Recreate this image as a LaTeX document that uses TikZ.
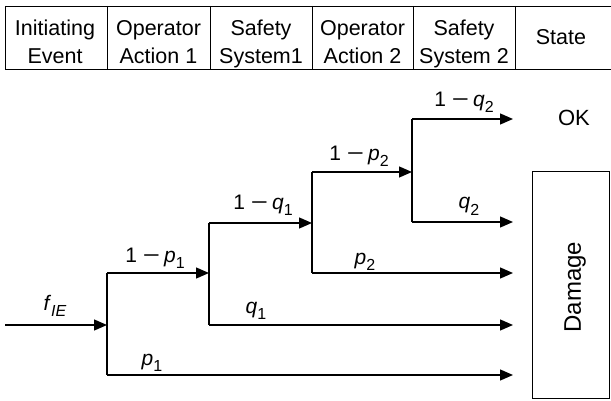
\documentclass[tikz,border=0pt]{standalone}
\usepackage{fontspec}
\setmainfont{Liberation Sans}
\usetikzlibrary{arrows.meta}
\newcommand\prob[2]{\textit{#1}\raisebox{-6pt}{\fontsize{16}{16}\selectfont #2}}
\newcommand\mns{\hspace{6pt}\scalebox{1.4}[1]{−}\hspace{4pt}}
\begin{document}
\begin{tikzpicture}[x=1pt,y=-1pt,
  tree/.style={line width=1.3pt},
  arr/.style={tree,-{Triangle[length=13pt,width=11pt]}},
  grid/.style={line width=0.9pt},
  hdr/.style={anchor=base,font=\fontsize{21.5}{26}\selectfont,inner sep=0pt},
  lab/.style={anchor=base,font=\fontsize{21}{25}\selectfont,inner sep=0pt}]
\useasboundingbox (0,0) rectangle (611,401);
% header
\draw[grid] (5,6) -- (611,6);
\draw[grid] (5,69) -- (611,69);
\foreach \x in {5,107,210,312,413,515} \draw[grid] (\x,6) -- (\x,69);
\node[hdr] (h1a) at (55,36) {Initiating};
\node[hdr] (h1b) at (55,64) {Event};
\node[hdr] (h2a) at (158.5,36) {Operator};
\node[hdr] (h2b) at (158.5,64) {Action 1};
\node[hdr] (h3a) at (261,36) {Safety};
\node[hdr] (h3b) at (261,64) {System1};
\node[hdr] (h4a) at (362.5,36) {Operator};
\node[hdr] (h4b) at (362.5,64) {Action 2};
\node[hdr] (h5a) at (464,36) {Safety};
\node[hdr] (h5b) at (464,64) {System 2};
\node[hdr] (h6) at (561,45) {State};
% branch coordinates
\coordinate (s) at (5,325);
\coordinate (b1) at (107,325);
\coordinate (b1u) at (107,273);
\coordinate (b1d) at (107,375);
\coordinate (b2) at (209,273);
\coordinate (b2u) at (209,223);
\coordinate (b2d) at (209,325);
\coordinate (b3) at (312,223);
\coordinate (b3u) at (312,172);
\coordinate (b3d) at (312,273);
\coordinate (b4) at (412,172);
\coordinate (b4u) at (412,119);
\coordinate (b4d) at (412,222);
\coordinate (e1) at (513,119);
\coordinate (e2) at (513,222);
\coordinate (e3) at (513,273);
\coordinate (e4) at (513,325);
\coordinate (e5) at (513,375);
% verticals
\draw[tree] (b1u) -- (b1d);
\draw[tree] (b2u) -- (b2d);
\draw[tree] (b3u) -- (b3d);
\draw[tree] (b4u) -- (b4d);
% horizontals
\draw[arr] (s) -- (b1);
\draw[arr] (b1u) -- (b2);
\draw[arr] (b1d) -- (e5);
\draw[arr] (b2u) -- (b3);
\draw[arr] (b2d) -- (e4);
\draw[arr] (b3u) -- (b4);
\draw[arr] (b3d) -- (e3);
\draw[arr] (b4u) -- (e1);
\draw[arr] (b4d) -- (e2);
% labels
\node[lab] (lf) at (55,310.5) {\prob{f}{\textit{IE}}};
\node[lab] (l1) at (155,262.5) {1\mns\prob{p}{1}};
\node[lab] (l2) at (152,365) {\prob{p}{1}};
\node[lab] (l3) at (263,209.5) {1\mns\prob{q}{1}};
\node[lab] (l4) at (256,313) {\prob{q}{1}};
\node[lab] (l5) at (359,160.5) {1\mns\prob{p}{2}};
\node[lab] (l6) at (365,264) {\prob{p}{2}};
\node[lab] (l7) at (464,106.5) {1\mns\prob{q}{2}};
\node[lab] (l8) at (469,209) {\prob{q}{2}};
% states
\node[anchor=base,inner sep=0pt,font=\fontsize{22}{26}\selectfont] (ok) at (574,126) {OK};
\node[draw,grid,minimum width=77pt,minimum height=227pt,inner sep=0pt] (dmg) at (570.5,285) {};
\node[inner sep=0pt,rotate=90,font=\fontsize{24}{28}\selectfont] (dmgt) at (575,287) {Damage};
\end{tikzpicture}
\end{document}
